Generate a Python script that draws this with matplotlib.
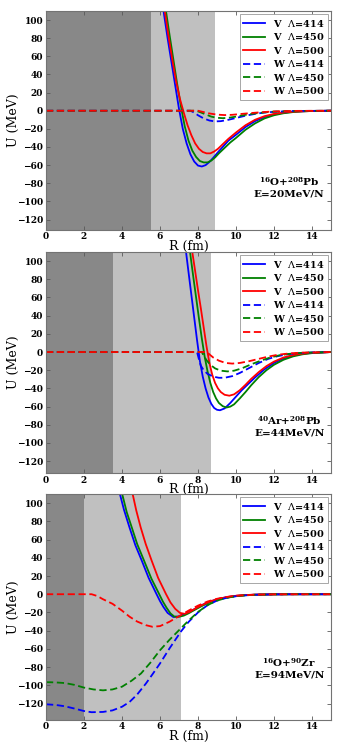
import matplotlib
matplotlib.use("Agg")
import matplotlib.pyplot as plt

plt.rcParams['font.family'] = ['DejaVu Serif']
plt.rcParams['mathtext.fontset'] = 'dejavuserif'

# ---------------- data ----------------
labels = [r'V  $\Lambda$=414', r'V  $\Lambda$=450', r'V  $\Lambda$=500',
          r'W $\Lambda$=414', r'W $\Lambda$=450', r'W $\Lambda$=500']

# Panel 1: 16O+208Pb, E=20MeV/N
p1_v414_r = [6.0, 6.2, 6.4, 6.6, 6.8, 7.0, 7.2, 7.4, 7.6, 7.8, 8.0, 8.2, 8.4, 8.6, 8.8, 9.0, 9.3, 9.6, 10.0, 10.5, 11.0, 11.5, 12.0, 12.5, 13.0, 13.5, 14.0, 15.0]
p1_v414_u = [135, 108, 80, 54, 28, 2, -20, -36, -48, -56, -60.5, -61.5, -60, -56.5, -52, -47, -40, -33, -26.5, -18, -11.5, -7, -4, -2.2, -1.2, -0.6, -0.3, 0]
p1_v450_r = [6.1, 6.3, 6.5, 6.7, 6.9, 7.1, 7.3, 7.5, 7.7, 7.9, 8.1, 8.3, 8.5, 8.7, 8.9, 9.1, 9.4, 9.7, 10.0, 10.5, 11.0, 11.5, 12.0, 12.5, 13.0, 13.5, 14.0, 15.0]
p1_v450_u = [138, 112, 84, 57, 30, 5, -17, -33, -44, -51, -55.5, -57, -57, -55, -51.5, -47, -41, -35, -30, -21, -14, -8.5, -5, -2.8, -1.5, -0.7, -0.3, 0]
p1_v500_r = [6.1, 6.25, 6.45, 6.65, 6.85, 7.05, 7.25, 7.45, 7.65, 7.85, 8.05, 8.25, 8.45, 8.65, 8.85, 9.05, 9.3, 9.6, 10.0, 10.5, 11.0, 11.5, 12.0, 12.5, 13.0, 14.0, 15.0]
p1_v500_u = [132, 110, 82, 56, 32, 13, -2, -16, -27, -36, -42, -45.5, -47, -47, -45, -42, -37, -31, -24, -16, -10, -6, -3.5, -2, -1, -0.3, 0]
p1_w414_r = [0, 7.6, 7.8, 8.0, 8.3, 8.6, 8.9, 9.2, 9.6, 10.0, 10.5, 11.0, 11.5, 12.0, 13.0, 15.0]
p1_w414_u = [0, 0, -2, -5, -8.5, -10.8, -11.8, -11.5, -10, -8, -5.5, -3.5, -2, -1.2, -0.3, 0]
p1_w450_r = [0, 7.9, 8.1, 8.4, 8.7, 9.0, 9.3, 9.6, 10.0, 10.5, 11.0, 11.5, 12.0, 13.0, 15.0]
p1_w450_u = [0, 0, -1.5, -4, -6.5, -7.8, -8.2, -7.8, -6.5, -4.5, -3, -1.8, -1, -0.3, 0]
p1_w500_r = [0, 8.0, 8.3, 8.6, 9.0, 9.4, 9.8, 10.3, 11.0, 11.5, 12.0, 13.0, 15.0]
p1_w500_u = [0, 0, -1.5, -3, -4.3, -4.8, -4.5, -3.5, -2.2, -1.4, -0.8, -0.2, 0]

# Panel 2: 40Ar+208Pb, E=44MeV/N
p2_v414_r = [7.2, 7.37, 7.5, 7.65, 7.8, 7.95, 8.1, 8.25, 8.4, 8.55, 8.7, 8.85, 9.0, 9.16, 9.4, 9.7, 10.0, 10.3, 10.6, 11.0, 11.5, 12.0, 12.5, 13.0, 13.5, 14.0, 15.0]
p2_v414_u = [140, 110, 88, 63, 38, 13, -10, -27, -40, -50, -57, -61.5, -63.5, -64, -62, -56, -49, -42, -36, -28, -19, -12, -7, -3.8, -1.9, -0.9, 0]
p2_v450_r = [7.45, 7.58, 7.75, 7.9, 8.05, 8.2, 8.35, 8.5, 8.65, 8.8, 8.95, 9.1, 9.3, 9.5, 9.7, 9.9, 10.2, 10.5, 10.8, 11.2, 11.6, 12.0, 12.5, 13.0, 13.5, 14.0, 15.0]
p2_v450_u = [130, 110, 83, 60, 37, 15, -5, -21, -34, -44, -51, -56, -59.5, -61, -60, -57.5, -51, -44, -36.5, -27.5, -20, -14, -8.5, -4.8, -2.5, -1.2, 0]
p2_v500_r = [7.55, 7.7, 7.85, 8.0, 8.15, 8.3, 8.45, 8.6, 8.75, 8.9, 9.05, 9.2, 9.4, 9.65, 9.9, 10.2, 10.5, 10.8, 11.2, 11.6, 12.0, 12.5, 13.0, 13.5, 14.0, 15.0]
p2_v500_u = [130, 110, 89, 68, 48, 27, 6, -12, -25, -34, -40, -44, -47, -48, -46.5, -42, -36, -29.5, -22, -15.5, -10.5, -6, -3.3, -1.7, -0.8, 0]
p2_w414_r = [0, 7.95, 8.05, 8.15, 8.3, 8.5, 8.8, 9.1, 9.4, 9.8, 10.2, 10.7, 11.2, 11.7, 12.2, 12.7, 13.2, 14.0, 15.0]
p2_w414_u = [0, 0, -8, -15, -20, -24, -27, -28.3, -28.3, -26.5, -23, -17.5, -12, -7.5, -4.5, -2.5, -1.3, -0.4, 0]
p2_w450_r = [0, 8.2, 8.3, 8.45, 8.65, 8.9, 9.2, 9.55, 9.9, 10.3, 10.8, 11.3, 11.8, 12.3, 12.8, 13.5, 15.0]
p2_w450_u = [0, 0, -4, -9, -14, -18, -20.5, -21.3, -20.5, -18, -13.5, -9.5, -6, -3.5, -2, -0.8, 0]
p2_w500_r = [0, 8.45, 8.6, 8.8, 9.1, 9.45, 9.8, 10.2, 10.7, 11.2, 11.7, 12.2, 12.8, 13.5, 15.0]
p2_w500_u = [0, 0, -2.5, -6, -9.5, -12, -12.7, -12, -10, -7.5, -5, -3, -1.5, -0.6, 0]

# Panel 3: 16O+90Zr, E=94MeV/N
p3_v414_r = [3.75, 3.89, 4.1, 4.39, 4.7, 5.04, 5.4, 5.82, 6.0, 6.18, 6.4, 6.7, 6.95, 7.15, 7.35, 7.6, 8.0, 8.5, 9.0, 9.5, 10.0, 10.5, 11.0, 12.0, 13.0, 15.0]
p3_v414_u = [125, 110, 93, 73.6, 54, 36.9, 18, 0, -7.5, -14, -20.5, -25, -24.5, -23, -21.5, -19, -14, -9, -5.5, -3.2, -1.8, -1, -0.5, -0.1, 0, 0]
p3_v450_r = [3.85, 4.01, 4.25, 4.51, 4.8, 5.16, 5.55, 5.96, 6.15, 6.35, 6.55, 6.75, 7.0, 7.25, 7.5, 7.8, 8.2, 8.6, 9.0, 9.5, 10.0, 10.5, 11.0, 12.0, 13.0, 15.0]
p3_v450_u = [125, 110, 90, 73.6, 55, 36.9, 17, 0, -8, -15, -21, -24.5, -24.8, -23.5, -21, -17.5, -13, -9, -6, -3.6, -2, -1.1, -0.6, -0.15, 0, 0]
p3_v500_r = [4.4, 4.56, 4.75, 4.98, 5.25, 5.56, 5.9, 6.32, 6.55, 6.8, 7.05, 7.3, 7.55, 7.8, 8.2, 8.6, 9.0, 9.5, 10.0, 10.5, 11.0, 12.0, 13.0, 15.0]
p3_v500_u = [125, 110, 92, 73.6, 55, 36.9, 18, 0, -9, -16, -20.5, -21.5, -19.5, -16.5, -12, -8.3, -5.5, -3.2, -1.7, -0.9, -0.45, -0.1, 0, 0]
p3_w414_r = [0, 0.5, 1.0, 1.5, 2.0, 2.4, 3.0, 3.5, 4.0, 4.4, 4.8, 5.26, 5.6, 6.0, 6.5, 7.1, 7.5, 8.0, 8.5, 9.0, 9.5, 10.0, 10.5, 11.0, 12.0, 13.0, 15.0]
p3_w414_u = [-120.8, -121.5, -123, -125.5, -128.2, -129.5, -129.2, -127.5, -123.5, -118.2, -110, -98, -88, -76, -59.5, -41, -30.5, -20, -12, -7, -4, -2.2, -1.2, -0.6, -0.15, 0, 0]
p3_w450_r = [0, 0.5, 1.0, 1.5, 2.0, 2.5, 3.0, 3.5, 4.0, 4.5, 5.0, 5.5, 6.0, 6.5, 7.0, 7.5, 8.0, 8.5, 9.0, 9.5, 10.0, 10.5, 11.0, 12.0, 13.0, 15.0]
p3_w450_u = [-96.5, -96.8, -97.5, -99.5, -102.5, -104.5, -105.5, -104.5, -101.5, -95, -87, -75, -61.5, -50, -39.5, -29, -19.5, -12, -7, -4, -2.2, -1.2, -0.6, -0.15, 0, 0]
p3_w500_r = [0, 2.4, 2.7, 3.0, 3.5, 4.0, 4.4, 4.8, 5.26, 5.6, 6.0, 6.5, 6.8, 7.1, 7.5, 8.0, 8.5, 9.0, 9.5, 10.0, 11.0, 12.0, 15.0]
p3_w500_u = [0, 0, -2, -5.5, -10.5, -18, -24.7, -30, -34, -35.7, -35, -30.2, -26.5, -23, -18, -12.5, -8, -5, -3, -1.7, -0.5, -0.1, 0]

panels = [
    dict(curves=[(p1_v414_r, p1_v414_u), (p1_v450_r, p1_v450_u), (p1_v500_r, p1_v500_u),
                 (p1_w414_r, p1_w414_u), (p1_w450_r, p1_w450_u), (p1_w500_r, p1_w500_u)],
         dark=5.55, light=8.9, ylim=(-131, 110),
         text='$^{\\mathbf{16}}$O+$^{\\mathbf{208}}$Pb\nE=20MeV/N', ty=-84,
         rect=(46, 11, 331, 229.5)),
    dict(curves=[(p2_v414_r, p2_v414_u), (p2_v450_r, p2_v450_u), (p2_v500_r, p2_v500_u),
                 (p2_w414_r, p2_w414_u), (p2_w450_r, p2_w450_u), (p2_w500_r, p2_w500_u)],
         dark=3.5, light=8.7, ylim=(-133, 110),
         text='$^{\\mathbf{40}}$Ar+$^{\\mathbf{208}}$Pb\nE=44MeV/N', ty=-81,
         rect=(46, 252, 331, 473)),
    dict(curves=[(p3_v414_r, p3_v414_u), (p3_v450_r, p3_v450_u), (p3_v500_r, p3_v500_u),
                 (p3_w414_r, p3_w414_u), (p3_w450_r, p3_w450_u), (p3_w500_r, p3_w500_u)],
         dark=2.0, light=7.1, ylim=(-137.5, 110),
         text='$^{\\mathbf{16}}$O+$^{\\mathbf{90}}$Zr\nE=94MeV/N', ty=-81,
         rect=(46, 494, 331, 719.5)),
]

colors = ['#0000ff', '#008000', '#ff0000', '#0000ff', '#008000', '#ff0000']
styles = ['-', '-', '-', '--', '--', '--']

W, H = 341, 744
fig = plt.figure(figsize=(W / 100, H / 100), dpi=100)

for p in panels:
    x0, y0, x1, y1 = p['rect']
    ax = fig.add_axes([x0 / W, 1 - y1 / H, (x1 - x0) / W, (y1 - y0) / H])
    ax.axvspan(0, p['dark'], color='#888888', lw=0, zorder=0)
    ax.axvspan(p['dark'], p['light'], color='#c0c0c0', lw=0, zorder=0)
    for (r, u), c, ls, lab in zip(p['curves'], colors, styles, labels):
        ax.plot(r, u, color=c, ls=ls, lw=1.3, label=lab, dashes=(4, 2) if ls == '--' else (None, None))
    ax.set_xlim(0, 15)
    ax.set_ylim(*p['ylim'])
    ax.set_xticks(range(0, 15, 2))
    ax.set_yticks(range(-120, 101, 20))
    ax.tick_params(direction='in', length=3, width=0.6, top=True, right=True,
                   labelsize=6.5, pad=2, color='0.35')
    for lbl in ax.get_xticklabels() + ax.get_yticklabels():
        lbl.set_fontweight('bold')
    for s in ax.spines.values():
        s.set_color('0.45')
        s.set_linewidth(0.8)
    ax.set_xlabel('R (fm)', fontsize=9, labelpad=-1)
    ax.set_ylabel('U (MeV)', fontsize=9, labelpad=-2)
    leg = ax.legend(loc='upper right', prop=dict(size=7, weight='bold'), fancybox=False,
                    framealpha=1, edgecolor='0.6', handlelength=2.2, handletextpad=0.8,
                    labelspacing=0.25, borderpad=0.4, borderaxespad=0.3)
    leg.get_frame().set_linewidth(0.6)
    ax.text(12.8, p['ty'], p['text'], ha='center', va='center', fontsize=7.5,
            fontweight='bold', linespacing=1.25)

fig.savefig('out.png', dpi=100)
